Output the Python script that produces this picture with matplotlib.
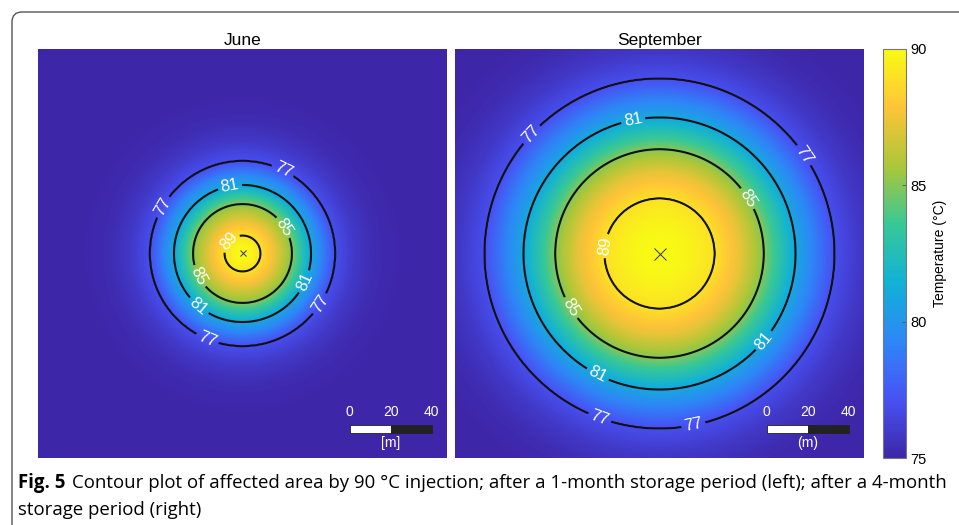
import matplotlib
matplotlib.use("Agg")
import matplotlib.pyplot as plt
import numpy as np
from matplotlib.colors import LinearSegmentedColormap
from matplotlib.patches import FancyBboxPatch, Rectangle
from matplotlib.transforms import IdentityTransform

# radial temperature profiles (distance from well in m, temperature in degC)
radio_junio = [0, 4, 8.8, 16, 24.2, 33.5, 45.2, 55, 65, 80, 150]
temp_junio = [90, 89.8, 89, 87.3, 85, 81, 77, 75.9, 75.3, 75, 75]
radio_sept = [0, 12, 27, 40, 51, 66.5, 85.5, 98, 110, 125, 150]
temp_sept = [90, 89.8, 89, 87.2, 85, 81, 77, 75.9, 75.3, 75, 75]

niveles = [77, 81, 85, 89]
titulos = ["June", "September"]
unidades = ["[m]", "(m)"]
escala_ticks = [0, 20, 40]
cbar_ticks = [75, 80, 85, 90]

# parula-like colormap
parula = LinearSegmentedColormap.from_list("parula", [
    (0.2422, 0.1504, 0.6603), (0.2810, 0.3228, 0.9579), (0.1786, 0.5289, 0.9682),
    (0.0689, 0.6948, 0.8394), (0.2161, 0.7843, 0.5923), (0.6720, 0.7793, 0.2227),
    (0.9970, 0.7659, 0.2199), (0.9769, 0.9839, 0.0805)])

plt.rcParams['font.family'] = ['Liberation Sans', 'DejaVu Sans']

W, H = 959, 525
fig = plt.figure(figsize=(W / 100, H / 100), dpi=100)

# marco redondeado de la figura
marco = FancyBboxPatch((12, -100), 2000, H - 12 + 100, boxstyle="round,pad=0,rounding_size=10",
                       transform=IdentityTransform(), facecolor='none', edgecolor='#555555', lw=1.0)
fig.patches.append(marco)

x = np.linspace(-100, 100, 401)
X, Y = np.meshgrid(x, x)
R = np.hypot(X, Y)

etiquetas = [
    [(19.8, 40.8), (-38.9, 22.7), (36.9, -24.2), (-17.4, -42.3),
     (-6.1, 32.5), (30.6, -13.9), (-21.8, -26.2),
     (19.8, 12.5), (-21.8, -11.5), (-5.6, 5.1)],
    [(-62.3, 57.9), (70.2, 47.7), (-29.1, -79.5), (16.4, -82.4),
     (-13, 65.8), (50.1, -41.8), (-30.1, -58.9),
     (42.8, 26.7), (-42.8, -26.2), (-26.7, 3.7)],
]

perfiles = [(radio_junio, temp_junio), (radio_sept, temp_sept)]
lefts = [38, 455]
for i, (rad, tem) in enumerate(perfiles):
    ax = fig.add_axes([lefts[i] / W, (H - 458) / H, 409 / W, 409 / H])
    T = np.interp(R, rad, tem)
    im = ax.imshow(T, extent=(-100, 100, -100, 100), origin='lower', cmap=parula,
                   vmin=75, vmax=90, interpolation='bilinear')
    cs = ax.contour(X, Y, T, levels=niveles, colors='#111111', linewidths=1.5)
    ax.clabel(cs, fmt='%d', colors='white', fontsize=12, inline=True, inline_spacing=3,
              manual=etiquetas[i])
    ax.plot(0, 0, marker='x', color='#333333', ms=5 + i * 3, mew=0.7)
    ax.set_xlim(-100, 100)
    ax.set_ylim(-100, 100)
    ax.set_xticks([])
    ax.set_yticks([])
    for s in ax.spines.values():
        s.set_visible(False)
    ax.set_title(titulos[i], fontsize=12.5, pad=3)

    # barra de escala
    x0 = 52.5
    ax.add_patch(Rectangle((x0, -87.8), 20, 3.9, facecolor='white', edgecolor='#222222', lw=0.6))
    ax.add_patch(Rectangle((x0 + 20, -87.8), 20, 3.9, facecolor='#222222', edgecolor='#222222', lw=0.6))
    for t in escala_ticks:
        ax.text(x0 + t, -77.5, str(t), color='white', fontsize=10, ha='center', va='center')
    ax.text(x0 + 20, -92.7, unidades[i], color='white', fontsize=10, ha='center', va='center')

cax = fig.add_axes([883 / W, (H - 458) / H, 23 / W, 409 / H])
cb = fig.colorbar(im, cax=cax, ticks=cbar_ticks)
cb.outline.set_edgecolor('#777777')
cb.outline.set_linewidth(0.8)
cax.tick_params(direction='in', length=3, width=0.6, labelsize=10.5, color='#555555', pad=3)
cb.set_label('Temperature (°C)', fontsize=10, labelpad=5)

# pie de figura
fuente_pie = ['Open Sans', 'DejaVu Sans']
r = fig.canvas.get_renderer()
t1 = fig.text(18 / W, 1 - 483 / H, "Fig. 5", fontsize=13.4, fontweight='bold',
              va='center', ha='left', family=fuente_pie)
bb = t1.get_window_extent(renderer=r)
fig.text((bb.x1 + 7) / W, 1 - 483 / H,
         "Contour plot of affected area by 90 °C injection; after a 1-month storage period (left); after a 4-month",
         fontsize=13.4, va='center', ha='left', family=fuente_pie)
fig.text(18 / W, 1 - 510 / H, "storage period (right)", fontsize=13.4, va='center', ha='left',
         family=fuente_pie)

fig.savefig('out.png', dpi=100)
